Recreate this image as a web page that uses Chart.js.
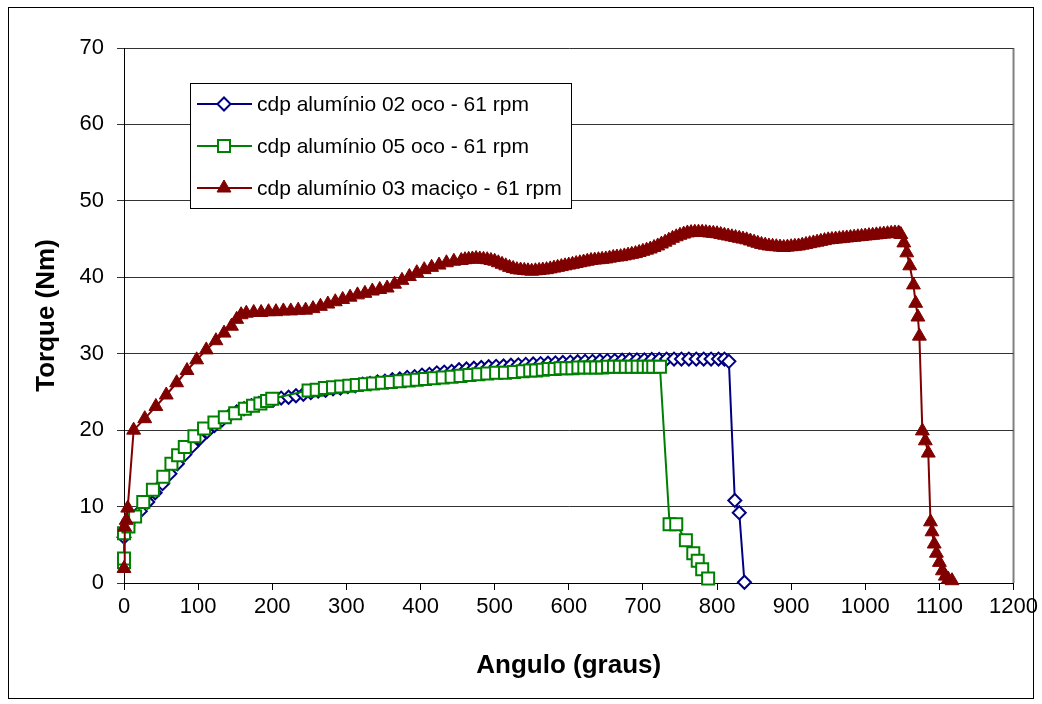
<!DOCTYPE html>
<html>
<head>
<meta charset="utf-8">
<script src="https://cdn.jsdelivr.net/npm/chart.js@4.4.1/dist/chart.umd.min.js"></script>
<style>
html,body{margin:0;padding:0;background:#fff;}
#wrap{position:relative;width:1042px;height:704px;}
canvas{display:block;}
</style>
</head>
<body>
<div id="wrap"><canvas id="c" width="1042" height="704"></canvas></div>
<script>
// ---- Data ----
const seriesLabels = [
  'cdp alumínio 02 oco - 61 rpm',
  'cdp alumínio 05 oco - 61 rpm',
  'cdp alumínio 03 maciço - 61 rpm'
];
const xTitle = 'Angulo (graus)';
const yTitle = 'Torque (Nm)';

const blueX = [0,5,12,22,32,42,52,62,72,82,92,102,112,122,132,142,152,162,172,182,192,202,212,222,232,242,252,262,272,282,292,302,312,322,332,342,352,362,372,382,392,402,412,422,432,442,452,462,472,482,492,502,512,522,532,542,552,562,572,582,592,602,612,622,632,642,652,662,672,682,692,702,712,722,732,742,752,762,772,782,792,802,810,816,824,830,837];
const blueY = [6.0,7.5,8.5,9.4,10.6,11.8,13.0,14.3,15.6,16.8,17.9,18.9,19.8,20.6,21.3,21.9,22.4,22.8,23.2,23.5,23.8,24.0,24.2,24.3,24.5,24.7,24.9,25.1,25.2,25.4,25.5,25.7,25.8,26.0,26.1,26.3,26.4,26.6,26.7,26.9,27.0,27.2,27.3,27.5,27.6,27.7,27.9,28.0,28.1,28.2,28.3,28.35,28.4,28.5,28.55,28.6,28.65,28.7,28.75,28.8,28.85,28.9,28.95,29.0,29.0,29.05,29.1,29.1,29.15,29.2,29.2,29.2,29.25,29.25,29.3,29.3,29.3,29.3,29.3,29.3,29.3,29.3,29.3,29.0,10.8,9.2,0.1];

const greenX = [0,0,0,6,15,26,39,53,64,73,82,95,108,122,136,150,163,174,184,193,200,249,260,271,282,293,304,314,325,336,348,360,372,384,395,406,418,430,442,454,466,478,490,502,514,526,538,548,556,565,573,581,589,597,605,613,621,629,637,645,653,661,669,677,685,693,701,708,714,723,736,745,758,768,774,780,788];
const greenY = [2.7,3.2,6.5,7.4,8.7,10.6,12.2,13.9,15.6,16.7,17.8,19.2,20.2,21.0,21.7,22.2,22.8,23.2,23.5,23.8,24.1,25.2,25.3,25.5,25.6,25.7,25.8,25.9,26.0,26.1,26.2,26.3,26.4,26.5,26.6,26.7,26.8,26.9,27.0,27.1,27.2,27.3,27.4,27.5,27.5,27.6,27.7,27.8,27.8,27.9,28.0,28.0,28.1,28.1,28.1,28.2,28.2,28.2,28.2,28.2,28.3,28.3,28.3,28.3,28.3,28.3,28.3,28.3,28.3,28.3,7.7,7.7,5.6,3.9,2.9,1.8,0.6];

const redX = [0,1,3,5,13,28,43,57,71,85,98,111,124,135,145,152,158,165,175,185,195,205,215,225,235,245,255,265,275,285,295,305,315,325,335,345,355,365,375,385,395,405,415,425,435,445,455,
460,465,470,475,480,485,490,495,500,505,510,515,520,525,530,535,540,545,550,555,560,565,570,575,580,585,590,595,
600,605,610,615,620,625,630,635,640,645,650,655,660,665,670,675,680,685,690,695,700,705,710,715,720,725,730,735,740,745,750,755,760,765,770,775,780,785,790,795,800,805,810,815,820,825,830,835,840,845,850,855,860,865,870,875,880,885,890,895,900,905,910,915,920,925,930,935,940,945,950,955,960,965,970,975,980,985,990,995,1000,1005,1010,1015,1020,1025,1030,1035,1040,1045,
1048,1052,1056,1060,1065,1068,1071,1073,1077,1081,1085,1088,1090,1093,1096,1100,1104,1108,1112,1117];
const redY = [1.9,7.3,8.2,9.8,20.0,21.5,23.1,24.6,26.2,27.8,29.2,30.5,31.7,32.7,33.6,34.5,35.1,35.3,35.4,35.4,35.5,35.5,35.6,35.6,35.7,35.7,35.9,36.2,36.5,36.8,37.1,37.4,37.7,37.9,38.2,38.4,38.6,39.1,39.6,40.1,40.6,41.0,41.3,41.6,41.9,42.1,42.2,
42.3,42.35,42.4,42.45,42.4,42.35,42.3,42.2,42.1,41.9,41.7,41.5,41.3,41.15,41.0,40.95,40.9,40.85,40.8,40.85,40.9,40.95,41.0,41.1,41.2,41.3,41.4,41.5,
41.6,41.7,41.8,41.9,42.0,42.1,42.2,42.25,42.3,42.35,42.4,42.5,42.6,42.65,42.7,42.8,42.9,43.0,43.1,43.25,43.4,43.55,43.7,43.9,44.1,44.35,44.6,44.85,45.1,45.3,45.5,45.65,45.8,45.85,45.9,45.9,45.9,45.85,45.8,45.75,45.7,45.6,45.5,45.4,45.3,45.2,45.1,45.0,44.9,44.75,44.6,44.45,44.3,44.2,44.1,44.05,44.0,43.95,43.9,43.95,44.0,44.05,44.1,44.2,44.3,44.4,44.5,44.6,44.7,44.8,44.9,44.95,45.0,45.05,45.1,45.15,45.2,45.25,45.3,45.35,45.4,45.45,45.5,45.55,45.6,45.65,45.7,45.75,45.8,45.8,
45.6,44.5,43.2,41.5,39.0,36.6,34.8,32.3,19.9,18.6,17.0,8.0,6.7,5.1,3.9,2.7,1.6,0.9,0.5,0.3];

const xTicks = [0,100,200,300,400,500,600,700,800,900,1000,1100,1200];
const yTicks = [0,10,20,30,40,50,60,70];

// ---- Build ----
function pts(xs, ys){ return xs.map((x,i)=>({x:x,y:ys[i]})); }
const FONT = 'Arial, "Liberation Sans", sans-serif';

const styles = [
  {color:'#000080', pointStyle:'rectRot', radius:6.5, fill:'#ffffff', bw:2},
  {color:'#008000', pointStyle:'rect', radius:8.5, fill:'#ffffff', bw:2},
  {color:'#800000', pointStyle:'triangle', radius:8, fill:'#800000', bw:1}
];

const datasets = [
  {label:seriesLabels[0], data:pts(blueX,blueY), order:2},
  {label:seriesLabels[1], data:pts(greenX,greenY), order:1},
  {label:seriesLabels[2], data:pts(redX,redY), order:0}
].map((d,i)=>Object.assign(d,{
  showLine:true,
  borderColor:styles[i].color,
  borderWidth:2,
  pointStyle:styles[i].pointStyle,
  pointRadius:styles[i].radius,
  pointHoverRadius:styles[i].radius,
  pointBackgroundColor:styles[i].fill,
  pointBorderColor:styles[i].color,
  pointBorderWidth:styles[i].bw,
  tension:0,
  clip:false
}));

const framePlugin = {
  id:'frame',
  beforeDraw(chart){
    const ctx = chart.ctx;
    ctx.save();
    ctx.fillStyle = '#ffffff';
    ctx.fillRect(0,0,chart.width,chart.height);
    ctx.strokeStyle = '#000';
    ctx.lineWidth = 1;
    ctx.strokeRect(8.5,7.5,1025,691);
    const a = chart.chartArea;
    ctx.strokeStyle = '#808080';
    ctx.lineWidth = 2;
    ctx.beginPath();
    ctx.moveTo(a.right, a.top);
    ctx.lineTo(a.right, a.bottom);
    ctx.stroke();
    ctx.restore();
  }
};

const legendPlugin = {
  id:'boxLegend',
  afterDatasetsDraw(chart){
    const ctx = chart.ctx;
    ctx.save();
    const bx = 190.5, by = 83.5, bw = 381, bh = 125;
    ctx.fillStyle = '#fff';
    ctx.fillRect(bx,by,bw,bh);
    ctx.strokeStyle = '#000';
    ctx.lineWidth = 1;
    ctx.strokeRect(bx,by,bw,bh);
    const rows = [104,146,188];
    chart.data.datasets.forEach((ds,i)=>{
      const y = rows[i];
      const st = styles[i];
      ctx.strokeStyle = st.color;
      ctx.lineWidth = 2;
      ctx.beginPath();
      ctx.moveTo(197,y); ctx.lineTo(252,y);
      ctx.stroke();
      ctx.fillStyle = st.fill;
      ctx.strokeStyle = st.color;
      ctx.lineWidth = st.bw;
      Chart.helpers.drawPoint(ctx,{pointStyle:st.pointStyle,rotation:0,radius:st.radius,borderWidth:st.bw},224,y);
      ctx.fillStyle = '#000';
      ctx.font = '21px ' + FONT;
      ctx.textBaseline = 'middle';
      ctx.textAlign = 'left';
      ctx.fillText(ds.label, 257, y+1);
    });
    ctx.restore();
  }
};

new Chart(document.getElementById('c'), {
  type:'scatter',
  data:{datasets:datasets},
  plugins:[framePlugin, legendPlugin],
  options:{
    responsive:false,
    animation:false,
    devicePixelRatio:1,
    layout:{padding:{left:0,top:48,right:28,bottom:0}},
    plugins:{legend:{display:false}, tooltip:{enabled:false}},
    scales:{
      x:{
        type:'linear', min:0, max:1200,
        afterFit(s){ s.height = 121; },
        afterBuildTicks(s){ s.ticks = xTicks.map(v=>({value:v})); },
        ticks:{color:'#000', font:{family:FONT,size:22}, padding:4, maxRotation:0, autoSkip:false, callback:(v)=>String(v)},
        grid:{display:true, drawOnChartArea:false, drawTicks:true, tickLength:7, color:'#000', lineWidth:1},
        border:{display:true, color:'#000', width:1},
        title:{display:true, text:xTitle, color:'#000', font:{family:FONT,size:26,weight:'bold'}, padding:{top:0,bottom:23}}
      },
      y:{
        type:'linear', min:0, max:70,
        afterFit(s){ s.width = 124; },
        afterBuildTicks(s){ s.ticks = yTicks.map(v=>({value:v})); },
        ticks:{color:'#000', font:{family:FONT,size:22}, padding:13, autoSkip:false, callback:(v)=>String(v)},
        grid:{display:true, drawOnChartArea:true, drawTicks:true, tickLength:7, color:'#333', lineWidth:1},
        border:{display:true, color:'#000', width:1},
        title:{display:true, text:yTitle, color:'#000', font:{family:FONT,size:26,weight:'bold'}, padding:{top:31,bottom:0}}
      }
    }
  }
});
</script>
</body>
</html>
